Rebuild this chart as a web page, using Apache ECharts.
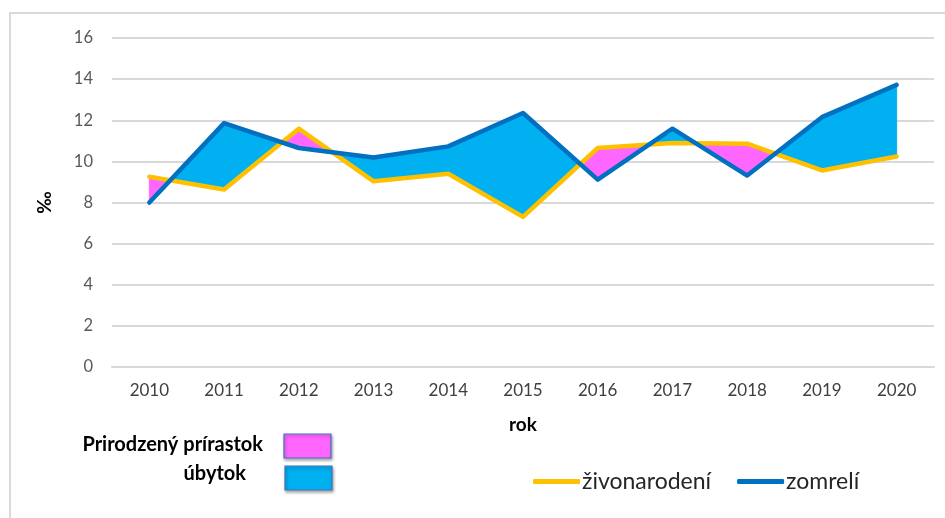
<!DOCTYPE html>
<html>
<head>
<meta charset="utf-8">
<script src="https://cdn.jsdelivr.net/npm/echarts@6/dist/echarts.min.js"></script>
<style>
html,body{margin:0;padding:0;background:#fff;}
#c{width:945px;height:518px;}
</style>
</head>
<body>
<div id="c"></div>
<script>
const years = ['2010','2011','2012','2013','2014','2015','2016','2017','2018','2019','2020'];
const births = [9.25, 8.63, 11.59, 9.03, 9.4, 7.3, 10.65, 10.89, 10.86, 9.56, 10.24];
const deaths = [8.0, 11.86, 10.65, 10.19, 10.73, 12.35, 9.11, 11.59, 9.31, 12.15, 13.72];
const yTicks = [0, 2, 4, 6, 8, 10, 12, 14, 16];

const PINK = '#FF66FF', CYAN = '#00B0F0', YEL = '#FFC000', BLUE = '#0070C0';
const FONT = 'Lato, "Open Sans", sans-serif';

function renderFill(params, api) {
  const i = params.dataIndex;
  const a0 = api.coord([i, births[i]]), a1 = api.coord([i + 1, births[i + 1]]);
  const b0 = api.coord([i, deaths[i]]), b1 = api.coord([i + 1, deaths[i + 1]]);
  const s0 = births[i] - deaths[i], s1 = births[i + 1] - deaths[i + 1];
  const col = s => (s > 0 ? PINK : CYAN);
  const poly = (pts, c) => ({type: 'polygon', shape: {points: pts}, style: {fill: c, stroke: c, lineWidth: 1}});
  const children = [];
  if (s0 * s1 >= 0) {
    children.push(poly([a0, a1, b1, b0], col(s0 + s1)));
  } else {
    const t = s0 / (s0 - s1);
    const x = [a0[0] + (a1[0] - a0[0]) * t, a0[1] + (a1[1] - a0[1]) * t];
    children.push(poly([a0, x, b0], col(s0)));
    children.push(poly([x, a1, b1], col(s1)));
  }
  return {type: 'group', children};
}

const chart = echarts.init(document.getElementById('c'), null, {renderer: 'canvas'});
chart.setOption({
  animation: false,
  textStyle: {fontFamily: FONT},
  grid: {left: 112, right: 11, top: 38, bottom: 151},
  xAxis: {
    type: 'category', data: years, boundaryGap: true,
    axisLine: {show: true, lineStyle: {color: '#d9d9d9', width: 2}},
    axisTick: {show: false},
    axisLabel: {color: '#404040', fontSize: 17, margin: 15, fontFamily: FONT},
    name: 'rok', nameLocation: 'middle', nameGap: 48,
    nameTextStyle: {fontWeight: 'bold', fontSize: 19, color: '#000', fontFamily: FONT}
  },
  yAxis: {
    type: 'value', min: yTicks[0], max: yTicks[yTicks.length - 1], interval: 2,
    axisLine: {show: false}, axisTick: {show: false},
    splitLine: {lineStyle: {color: '#d9d9d9', width: 2}},
    axisLabel: {color: '#595959', fontSize: 16.5, margin: 19, fontFamily: FONT},
    name: '‰', nameLocation: 'middle', nameGap: 58, nameRotate: 90,
    nameTextStyle: {fontWeight: 'bold', fontSize: 19, color: '#000', fontFamily: FONT}
  },
  legend: {
    left: 533, top: 470, padding: 0,
    itemWidth: 47, itemHeight: 5, itemGap: 26,
    icon: 'roundRect',
    textStyle: {fontSize: 23, color: '#262626', fontFamily: FONT, padding: [0, 0, 0, -3]},
    data: ['živonarodení', 'zomrelí']
  },
  series: [
    {
      type: 'custom', name: 'fill', z: 1,
      renderItem: renderFill,
      data: births.slice(0, -1).map((v, i) => [i, v, deaths[i]]),
      encode: {x: 0, y: [1, 2]},
      silent: true
    },
    {
      type: 'line', name: 'živonarodení', data: births, z: 3,
      symbol: 'none', lineStyle: {color: YEL, width: 4.5, join: 'round', cap: 'round'},
      itemStyle: {color: YEL}
    },
    {
      type: 'line', name: 'zomrelí', data: deaths, z: 4,
      symbol: 'none', lineStyle: {color: BLUE, width: 4.5, join: 'round', cap: 'round'},
      itemStyle: {color: BLUE}
    }
  ],
  graphic: [
    {type: 'rect', shape: {x: 10, y: 13, width: 960, height: 540}, style: {fill: 'none', stroke: '#d9d9d9', lineWidth: 2}, silent: true},
    {type: 'text', right: 945 - 263, top: 435, style: {text: 'Prirodzený prírastok', font: 'bold 20px ' + FONT, fill: '#000'}},
    {type: 'text', right: 945 - 246, top: 464, style: {text: 'úbytok', font: 'bold 20px ' + FONT, fill: '#000'}},
    {type: 'rect', shape: {x: 284, y: 434, width: 47, height: 24}, style: {fill: PINK, stroke: '#4472C4', lineWidth: 1.2, shadowBlur: 3, shadowOffsetX: 1, shadowOffsetY: 2, shadowColor: 'rgba(0,0,0,0.35)'}},
    {type: 'rect', shape: {x: 285, y: 466, width: 47, height: 24}, style: {fill: CYAN, stroke: '#4472C4', lineWidth: 1.2, shadowBlur: 3, shadowOffsetX: 1, shadowOffsetY: 2, shadowColor: 'rgba(0,0,0,0.35)'}}
  ]
});
</script>
</body>
</html>
